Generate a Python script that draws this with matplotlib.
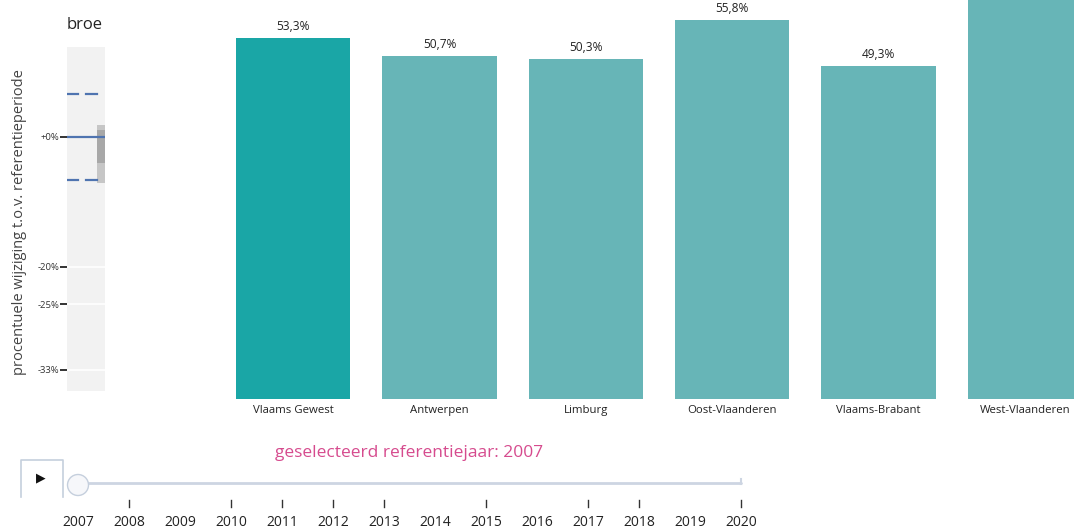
import matplotlib
matplotlib.use("Agg")
import matplotlib.pyplot as plt
import numpy as np
from matplotlib.patches import Rectangle, Circle
from matplotlib.lines import Line2D

plt.rcParams['font.family'] = ['Open Sans', 'DejaVu Sans']

# ---- data ----
regions = ["Vlaams Gewest", "Antwerpen", "Limburg", "Oost-Vlaanderen", "Vlaams-Brabant", "West-Vlaanderen"]
values = [53.3, 50.7, 50.3, 55.8, 49.3, 62.0]
value_labels = ["53,3%", "50,7%", "50,3%", "55,8%", "49,3%", ""]
highlight = "Vlaams Gewest"

panel_ticks = [0, -20, -25, -33]
panel_tick_labels = ["+0%", "-20%", "-25%", "-33%"]
band_upper = 7.7
band_lower = -7.1
box_outer = [2.1, -7.6]
box_inner = [1.2, -4.4]

years = list(range(2007, 2021))
tick_years = [2008, 2010, 2011, 2012, 2013, 2015, 2017, 2018, 2020]
selected_year = 2007

W, H = 1074, 531
fig = plt.figure(figsize=(W / 100, H / 100), dpi=100)


def ax_px(x0, y0, x1, y1, **kw):
    return fig.add_axes([x0 / W, 1 - y1 / H, (x1 - x0) / W, (y1 - y0) / H], **kw)


# ---- main bar chart ----
ax = ax_px(220, -79, 1098, 399)
colors = ["#1aa6a6" if r == highlight else "#67b5b7" for r in regions]
x = np.arange(len(regions))
ax.bar(x, values, width=0.78, color=colors, zorder=2)
for xi, v, lab in zip(x, values, value_labels):
    if lab:
        ax.text(xi, v + 0.75, lab, ha="center", va="bottom", fontsize=8.6, color="#222222")
ax.set_xlim(-0.5, len(regions) - 0.5)
ax.set_ylim(1.7, 70)
ax.set_xticks(x)
ax.set_xticklabels(regions, fontsize=8.2, color="#222222")
ax.tick_params(axis="x", length=0, pad=4)
ax.set_yticks([])
for s in ax.spines.values():
    s.set_visible(False)
ax.patch.set_alpha(0)

# ---- small left panel ----
def lg(p):
    return np.log10(1 + np.asarray(p) / 100.0)

pax = ax_px(67, 47, 105, 391)
pax.set_facecolor("#f2f2f2")
pax.set_xlim(0, 1)
pax.set_ylim(lg(-35.4), lg(16.7))
pax.set_yticks(lg(panel_ticks))
pax.set_yticklabels(panel_tick_labels, fontsize=6.8, color="#333333")
pax.tick_params(axis="y", length=5, width=1.4, color="#333333", pad=0.5)
pax.set_xticks([])
for t in panel_ticks[1:]:
    pax.axhline(lg(t), color="white", lw=1.2, zorder=1)
for s in pax.spines.values():
    s.set_visible(False)
pax.add_patch(Rectangle((0.79, lg(box_outer[1])), 0.3, lg(box_outer[0]) - lg(box_outer[1]),
                        facecolor="#c6c6c6", edgecolor="none", zorder=2))
pax.add_patch(Rectangle((0.79, lg(box_inner[1])), 0.3, lg(box_inner[0]) - lg(box_inner[1]),
                        facecolor="#a8a8a8", edgecolor="none", zorder=2))
pax.axhline(lg(0), color="#4f74b0", lw=1.6, zorder=3)
for b in (band_upper, band_lower):
    pax.plot([0, 0.29], [lg(b)] * 2, color="#4f74b0", lw=1.6, zorder=3)
    pax.plot([0.5, 0.79], [lg(b)] * 2, color="#4f74b0", lw=1.6, zorder=3)
pax.set_title("broe", loc="left", fontsize=12, color="#222222", pad=13)

fig.text(20 / W, 1 - 222 / H, "procentuele wijziging t.o.v. referentieperiode", rotation=90,
         ha="center", va="center", fontsize=10.5, color="#444444")

# ---- slider overlay ----
ov = fig.add_axes([0, 0, 1, 1])
ov.set_xlim(0, W)
ov.set_ylim(H, 0)
ov.axis("off")
ov.patch.set_alpha(0)

x0_year, step = 78, 51.0
def yx(yr):
    return x0_year + step * (yr - years[0])

ov.text(409, 453, "geselecteerd referentiejaar: %d" % selected_year, ha="center", va="center",
        fontsize=12.5, color="#d64b8e")

# play button
ov.add_line(Line2D([20.5, 20.5, 63, 63], [497, 460, 460, 497], color="#c5cfdd", lw=1.2))
ov.text(41, 478, "\u25B6", ha="center", va="center", fontsize=9, color="#111111",
        family="DejaVu Sans")

# rail
ov.add_line(Line2D([yx(years[0]), yx(years[-1])], [483, 483], color="#cdd5e2", lw=2,
                   solid_capstyle="round"))
ov.add_line(Line2D([yx(years[-1]), yx(years[-1])], [479, 484], color="#cdd5e2", lw=1.5))
ov.add_patch(Circle((yx(selected_year), 485), 10.5, facecolor="#f6f7fa", edgecolor="#c5cfdd",
                    lw=1.0, zorder=5))
for yr in tick_years:
    ov.add_line(Line2D([yx(yr), yx(yr)], [500, 507], color="#333333", lw=1))
for yr in years:
    ov.text(yx(yr), 523, str(yr), ha="center", va="center", fontsize=10, color="#222222")

fig.savefig("out.png", dpi=100)
